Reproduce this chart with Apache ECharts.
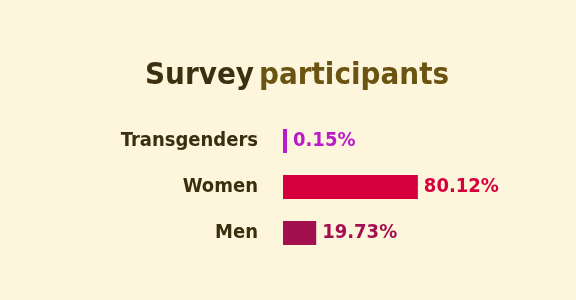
<!DOCTYPE html>
<html><head><meta charset="utf-8">
<script src="https://cdn.jsdelivr.net/npm/echarts@6/dist/echarts.min.js"></script>
<style>html,body{margin:0;padding:0;background:#fef6dc;}#c{width:576px;height:300px;}</style>
</head><body><div id="c"></div>
<script>
const categories = ['Transgenders', 'Women', 'Men'];
const values = [0.15, 80.12, 19.73];
const barColors = ['#b81cc8', '#d6003f', '#a31050'];
const FONT = '"Liberation Sans Narrow", "DejaVu Sans Condensed", sans-serif';

const chart = echarts.init(document.getElementById('c'), null, {renderer: 'canvas'});
chart.setOption({
  backgroundColor: '#fef6dc',
  title: {
    text: '{a|Survey} {b|participants}',
    left: 140,
    top: 55,
    textStyle: {
      rich: {
        a: {fontFamily: FONT, fontWeight: 'bold', fontSize: 31, color: '#3d3010'},
        b: {fontFamily: FONT, fontWeight: 'bold', fontSize: 31, color: '#6b5312'}
      }
    }
  },
  grid: {left: 283, width: 202, top: 118, height: 138, containLabel: false},
  xAxis: {type: 'value', min: 0, max: 120, show: false},
  yAxis: {
    type: 'category', data: categories, inverse: true,
    axisLine: {show: false}, axisTick: {show: false},
    axisLabel: {margin: 25, fontFamily: FONT, fontWeight: 'bold', fontSize: 20, color: '#3a2e0e'}
  },
  series: [{
    type: 'bar',
    data: values.map((v, i) => ({value: v, itemStyle: {color: barColors[i]}, label: {color: barColors[i]}})),
    barWidth: 24,
    barMinHeight: 4,
    label: {
      show: true, position: 'right', distance: 6,
      fontFamily: FONT, fontWeight: 'bold', fontSize: 20,
      formatter: p => p.value.toFixed(2) + '%'
    }
  }]
});
</script></body></html>
